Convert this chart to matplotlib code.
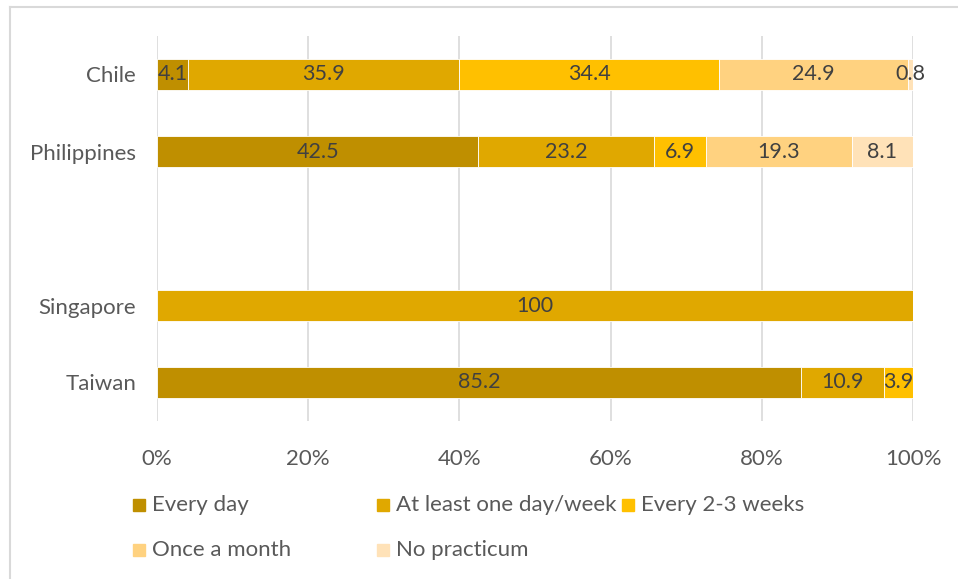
import matplotlib.pyplot as plt
from matplotlib.lines import Line2D
from matplotlib.patches import Rectangle

plt.rcParams['font.family'] = ['Lato', 'DejaVu Sans']

# data (top to bottom in the picture); blank slot between Philippines and Singapore
countries = ["Chile", "Philippines", "", "Singapore", "Taiwan"]
series_names = ["Every day", "At least one day/week", "Every 2-3 weeks",
                "Once a month", "No practicum"]
every_day = [4.1, 42.5, 0, 0, 85.2]
one_day_week = [35.9, 23.2, 0, 100, 10.9]
every_2_3_weeks = [34.4, 6.9, 0, 0, 3.9]
once_month = [24.9, 19.3, 0, 0, 0]
no_practicum = [0.8, 8.1, 0, 0, 0]
x_ticks = [0, 20, 40, 60, 80, 100]
x_tick_labels = ["0%", "20%", "40%", "60%", "80%", "100%"]

colors = ["#BF8F00", "#E0A800", "#FFC000", "#FFD280", "#FFE2B8"]
series = [every_day, one_day_week, every_2_3_weeks, once_month, no_practicum]

fig = plt.figure(figsize=(9.58, 5.79), dpi=100)
ax = fig.add_axes([157 / 958, 1 - 421 / 579, (913 - 157) / 958, (421 - 36) / 579])

ypos = list(range(len(countries)))[::-1]
left = [0.0] * len(countries)
for vals, col in zip(series, colors):
    # skip empty segments so no stray edges show up
    idx = [i for i, v in enumerate(vals) if v > 0]
    bars = ax.barh([ypos[i] for i in idx], [vals[i] for i in idx],
                   left=[left[i] for i in idx], height=0.4, color=col,
                   edgecolor="white", linewidth=0.6, zorder=2)
    for b, i in zip(bars, idx):
        ax.text(b.get_x() + b.get_width() / 2, b.get_y() + b.get_height() / 2,
                f"{vals[i]:g}", ha="center", va="center", fontsize=15.5,
                color="#404040", zorder=3)
    left = [l + v for l, v in zip(left, vals)]

ax.set_xlim(0, 100)
ax.set_ylim(-0.5, len(countries) - 0.5)
ax.set_xticks(x_ticks)
ax.set_xticklabels(x_tick_labels)
ax.set_yticks(ypos)
ax.set_yticklabels(countries)
ax.tick_params(axis="both", length=0, labelsize=16, labelcolor="#595959")
ax.tick_params(axis="x", pad=20)
ax.tick_params(axis="y", pad=15)
ax.xaxis.grid(True, color="#D9D9D9", linewidth=1.2, zorder=0)
ax.set_axisbelow(True)
for s in ax.spines.values():
    s.set_visible(False)

# legend drawn by hand to match the spreadsheet layout
legend_pos = [(133, 505), (377, 505), (622, 505), (133, 550), (377, 550)]
for name, col, (px, py) in zip(series_names, colors, legend_pos):
    fig.add_artist(Rectangle((px / 958, 1 - (py + 6) / 579), 12 / 958, 12 / 579,
                             transform=fig.transFigure, color=col))
    fig.text((px + 19) / 958, 1 - py / 579, name, ha="left", va="center",
             fontsize=16, color="#595959")

# outer frame (top and left edges visible)
fig.add_artist(Line2D([10 / 958, 1], [1 - 7 / 579] * 2, transform=fig.transFigure,
                      color="#D9D9D9", linewidth=1.5))
fig.add_artist(Line2D([10 / 958] * 2, [0, 1 - 7 / 579], transform=fig.transFigure,
                      color="#D9D9D9", linewidth=1.5))

fig.savefig("out.png", dpi=100)
plt.close(fig)
